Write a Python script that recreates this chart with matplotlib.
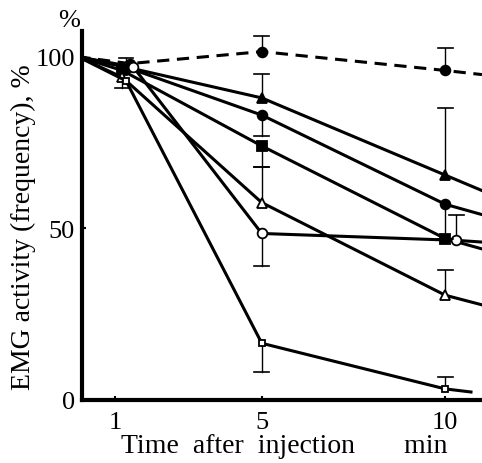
import matplotlib
matplotlib.use("Agg")
import matplotlib.pyplot as plt

plt.rcParams['font.family'] = ['Liberation Serif', 'DejaVu Serif']

# time points (min) and EMG activity (%)
t_dash = [0, 1.4, 5, 10, 11]
y_dash = [100, 98, 101.5, 96, 94.8]

t_ftri = [0, 1.3, 5, 10, 11]
y_ftri = [100, 97, 88, 65.5, 61]

t_fcirc = [0, 1.3, 5, 10, 11]
y_fcirc = [100, 97, 83, 57, 54]

t_fsq = [0, 1.2, 5, 10, 11]
y_fsq = [100, 96, 74, 47, 44]

t_otri = [0, 1.2, 5, 10, 11]
y_otri = [100, 94, 57.5, 30.5, 27.7]

t_ocirc = [0, 1.5, 5, 10.3, 11]
y_ocirc = [100, 97, 48.5, 46.5, 46]

t_osq = [0, 1.3, 5, 10, 10.7]
y_osq = [100, 93, 16.5, 3.2, 2.3]

# error bars: (time, value, low, high)
err_bars = [
    (5, 101.5, 101.5, 106), (10, 96, 96, 102.5),
    (5, 88, 88, 95), (10, 65.5, 65.5, 85),
    (5, 83, 77, 83), (10, 57, 47, 57),
    (5, 74, 68, 74),
    (5, 57.5, 57.5, 68), (10, 30.5, 30.5, 38),
    (5, 48.5, 39, 48.5), (10.3, 46.5, 46.5, 54),
    (5, 16.5, 8, 16.5), (10, 3.2, 3.2, 6.7),
    (1.2, 94, 91, 94), (1.3, 97, 97, 99.5),
]

fig = plt.figure(figsize=(4.82, 4.64), dpi=100)
ax = fig.add_axes([0.170, 0.136, 0.830, 0.795])

mk = [1, 2, 3]  # no markers at time 0 or at the clipped ends
k = dict(color='black', lw=2.2, ms=7, mew=1.3, markevery=mk)
ax.plot(t_dash, y_dash, '--', marker='o', mfc='black', dashes=(4, 2.5), **k)
ax.plot(t_ftri, y_ftri, '-', marker='^', mfc='black', **k)
ax.plot(t_fcirc, y_fcirc, '-', marker='o', mfc='black', **k)
ax.plot(t_fsq, y_fsq, '-', marker='s', mfc='black', **k)
ax.plot(t_otri, y_otri, '-', marker='^', mfc='white', **k)
ax.plot(t_ocirc, y_ocirc, '-', marker='o', mfc='white', **k)
ax.plot(t_osq, y_osq, '-', marker='s', mfc='white', color='black', lw=2.2, ms=5, mew=1.3,
        markevery=mk)

for t, v, lo, hi in err_bars:
    ax.plot([t, t], [lo, hi], color='black', lw=1.0, zorder=1)
    cap = hi if hi > v else lo
    ax.plot([t - 0.2, t + 0.2], [cap, cap], color='black', lw=1.2)

ax.set_xlim(0.1, 11.0)
ax.set_ylim(0, 107.5)
ax.set_xticks([1, 5, 10])
ax.set_yticks([0, 50, 100])
ax.tick_params(direction='in', length=3, width=1.5, labelsize=19)
ax.tick_params(axis='x', pad=8)
ax.tick_params(axis='y', pad=5)

for s in ['top', 'right']:
    ax.spines[s].set_visible(False)
for s in ['left', 'bottom']:
    ax.spines[s].set_linewidth(3)

ax.set_xlabel('Time  after  injection       min', fontsize=20)
ax.xaxis.set_label_coords(0.505, -0.09)
ax.xaxis.label.set_va('top')
ax.set_ylabel('EMG activity (frequency), %', fontsize=20)
ax.yaxis.set_label_coords(-0.115, 0.47)
ax.text(-0.005, 1.0, '%', transform=ax.transAxes, fontsize=19, ha='right', va='bottom')

fig.savefig('out.png', dpi=100)
